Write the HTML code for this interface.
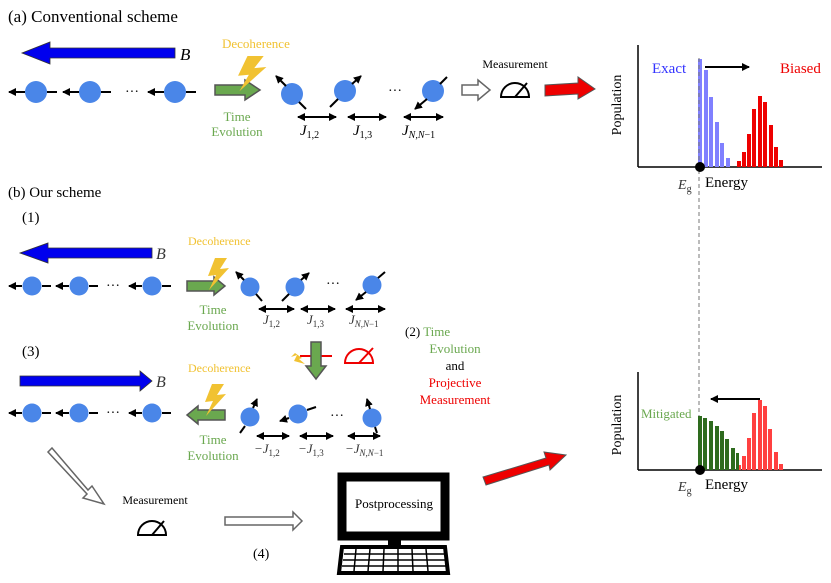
<!DOCTYPE html>
<html><head><meta charset="utf-8"><style>
body{margin:0;background:#fff}
svg{display:block;font-family:"Liberation Serif",serif}
</style></head><body>
<svg width="831" height="583" viewBox="0 0 831 583" xmlns="http://www.w3.org/2000/svg">
<defs>
<marker id="ah" markerWidth="8" markerHeight="8" refX="7" refY="4" orient="auto" markerUnits="userSpaceOnUse"><path d="M0,0 L8,4 L0,8 z" fill="#000"/></marker>
<marker id="ah2" markerWidth="8" markerHeight="8" refX="1" refY="4" orient="auto" markerUnits="userSpaceOnUse"><path d="M8,0 L0,4 L8,8 z" fill="#000"/></marker>
<g id="bolt"><path d="M10,0 L22,0 L15,11 L24,10 L4,32 L11,17 L3,18 z" fill="#f1c232"/></g>
<g id="meter"><path d="M0,16 A14,14 0 0 1 28,16 z" fill="none" stroke="#000" stroke-width="2"/><line x1="14" y1="16" x2="26" y2="2" stroke="#000" stroke-width="2"/></g>
</defs>

<!-- (a) -->
<text x="8" y="22" font-size="17">(a) Conventional scheme</text>
<path d="M175,48 L50,48 L50,42 L22,53 L50,64 L50,58 L175,58 z" fill="#0000ee" stroke="#333" stroke-width="0.8"/>
<text x="180" y="60" font-size="17" font-style="italic">B</text>
<g fill="#4a86e8">
<circle cx="36" cy="92" r="11"/><circle cx="90" cy="92" r="11"/><circle cx="175" cy="92" r="11"/>
</g>
<g stroke="#000" stroke-width="2">
<line x1="25" y1="92" x2="9" y2="92" marker-end="url(#ah)"/><line x1="47" y1="92" x2="57" y2="92"/>
<line x1="79" y1="92" x2="63" y2="92" marker-end="url(#ah)"/><line x1="101" y1="92" x2="111" y2="92"/>
<line x1="164" y1="92" x2="148" y2="92" marker-end="url(#ah)"/><line x1="186" y1="92" x2="196" y2="92"/>
</g>
<text x="125" y="96" font-size="14">···</text>
<path d="M215,85 L245,85 L245,80 L260,90 L245,100 L245,95 L215,95 z" fill="#6aa84f" stroke="#555" stroke-width="1.5"/>
<use href="#bolt" transform="translate(234,56) scale(1.35,1.1)"/>
<text x="222" y="48" font-size="13" fill="#f1c232">Decoherence</text>
<text x="237" y="121" font-size="13" fill="#6aa84f" text-anchor="middle">Time</text>
<text x="237" y="136" font-size="13" fill="#6aa84f" text-anchor="middle">Evolution</text>
<g fill="#4a86e8"><circle cx="292" cy="94" r="11"/><circle cx="345" cy="91" r="11"/><circle cx="433" cy="91" r="11"/></g>
<g stroke="#000" stroke-width="2">
<line x1="286" y1="86" x2="276" y2="76" marker-end="url(#ah)"/><line x1="299" y1="102" x2="306" y2="109"/>
<line x1="352" y1="84" x2="361" y2="76" marker-end="url(#ah)"/><line x1="338" y1="99" x2="330" y2="107"/>
<line x1="427" y1="99" x2="415" y2="109" marker-end="url(#ah)"/><line x1="440" y1="84" x2="447" y2="77"/>
<line x1="298" y1="117" x2="336" y2="117" marker-end="url(#ah)" marker-start="url(#ah2)"/>
<line x1="348" y1="117" x2="386" y2="117" marker-end="url(#ah)" marker-start="url(#ah2)"/>
<line x1="404" y1="117" x2="443" y2="117" marker-end="url(#ah)" marker-start="url(#ah2)"/>
</g>
<text x="388" y="95" font-size="14">···</text>
<g font-size="15" font-style="italic">
<text x="300" y="135">J<tspan font-size="10" font-style="normal" dy="3">1,2</tspan></text>
<text x="353" y="135">J<tspan font-size="10" font-style="normal" dy="3">1,3</tspan></text>
<text x="402" y="135">J<tspan font-size="10" dy="3">N,N</tspan><tspan font-size="10" font-style="normal">−1</tspan></text>
</g>
<path d="M462,85 L478,85 L478,80 L490,90 L478,100 L478,95 L462,95 z" fill="#fff" stroke="#666" stroke-width="1.5"/>
<text x="515" y="68" font-size="12" text-anchor="middle">Measurement</text>
<use href="#meter" transform="translate(501,81)"/>
<path d="M545,85 L578,83 L578,77 L595,89 L578,99 L578,94 L545,96 z" fill="#ee0000" stroke="#555" stroke-width="1"/>

<!-- chart a -->
<text transform="translate(621,105) rotate(-90)" font-size="14" text-anchor="middle">Population</text>
<line x1="638" y1="45" x2="638" y2="167" stroke="#000" stroke-width="1.5"/>
<line x1="638" y1="167" x2="822" y2="167" stroke="#000" stroke-width="1.5"/>
<g fill="#8080ff">
<rect x="698" y="59" width="4" height="108"/><rect x="704" y="70" width="4" height="97"/><rect x="709" y="97" width="4" height="70"/>
<rect x="715" y="122" width="4" height="45"/><rect x="720" y="143" width="4" height="24"/><rect x="726" y="158" width="4" height="9"/>
</g>
<g fill="#ee0000">
<rect x="737" y="161" width="4" height="6"/><rect x="742" y="152" width="4" height="15"/><rect x="747" y="134" width="4" height="33"/>
<rect x="752" y="109" width="4" height="58"/><rect x="758" y="96" width="4" height="71"/><rect x="763" y="102" width="4" height="65"/>
<rect x="769" y="125" width="4" height="42"/><rect x="774" y="147" width="4" height="20"/><rect x="779" y="160" width="4" height="7"/>
</g>
<line x1="699" y1="58" x2="699" y2="470" stroke="#777" stroke-width="1" stroke-dasharray="4,3"/>
<circle cx="700" cy="167" r="5" fill="#000"/>
<line x1="705" y1="67" x2="749" y2="67" stroke="#000" stroke-width="2" marker-end="url(#ah)"/>
<text x="652" y="73" font-size="15" fill="#3333ff">Exact</text>
<text x="780" y="73" font-size="15" fill="#ee0000">Biased</text>
<text x="678" y="189" font-size="14" font-style="italic" fill="#333">E<tspan font-size="10" font-style="normal" dy="3">g</tspan></text>
<text x="705" y="187" font-size="15">Energy</text>

<!-- (b) -->
<text x="8" y="197" font-size="15">(b) Our scheme</text>
<text x="22" y="222" font-size="15">(1)</text>
<path d="M152,248 L48,248 L48,243 L20,253 L48,263 L48,258 L152,258 z" fill="#0000ee" stroke="#333" stroke-width="0.8"/>
<text x="156" y="259" font-size="16" font-style="italic" fill="#333">B</text>
<text x="22" y="356" font-size="15">(3)</text>
<path d="M20,376 L140,376 L140,371 L152,381 L140,391 L140,386 L20,386 z" fill="#0000ee" stroke="#333" stroke-width="0.8"/>
<text x="156" y="387" font-size="16" font-style="italic" fill="#333">B</text>
<g fill="#4a86e8">
<circle cx="32" cy="286" r="9.5"/><circle cx="79" cy="286" r="9.5"/><circle cx="152" cy="286" r="9.5"/>
<circle cx="32" cy="413" r="9.5"/><circle cx="79" cy="413" r="9.5"/><circle cx="152" cy="413" r="9.5"/>
</g>
<g stroke="#000" stroke-width="2">
<line x1="22" y1="286" x2="9" y2="286" marker-end="url(#ah)"/><line x1="42" y1="286" x2="51" y2="286"/>
<line x1="69" y1="286" x2="56" y2="286" marker-end="url(#ah)"/><line x1="89" y1="286" x2="98" y2="286"/>
<line x1="142" y1="286" x2="129" y2="286" marker-end="url(#ah)"/><line x1="162" y1="286" x2="171" y2="286"/>
<line x1="22" y1="413" x2="9" y2="413" marker-end="url(#ah)"/><line x1="42" y1="413" x2="51" y2="413"/>
<line x1="69" y1="413" x2="56" y2="413" marker-end="url(#ah)"/><line x1="89" y1="413" x2="98" y2="413"/>
<line x1="142" y1="413" x2="129" y2="413" marker-end="url(#ah)"/><line x1="162" y1="413" x2="171" y2="413"/>
</g>
<text x="106" y="290" font-size="14">···</text>
<text x="106" y="417" font-size="14">···</text>

<path d="M187,281 L214,281 L214,277 L225,286 L214,295 L214,291 L187,291 z" fill="#6aa84f" stroke="#555" stroke-width="1.5"/>
<use href="#bolt" transform="translate(205,258)"/>
<text x="188" y="245" font-size="12" fill="#f1c232">Decoherence</text>
<text x="213" y="314" font-size="13" fill="#6aa84f" text-anchor="middle">Time</text>
<text x="213" y="330" font-size="13" fill="#6aa84f" text-anchor="middle">Evolution</text>

<g fill="#4a86e8"><circle cx="250" cy="287" r="9.5"/><circle cx="295" cy="287" r="9.5"/><circle cx="372" cy="285" r="9.5"/></g>
<g stroke="#000" stroke-width="2">
<line x1="244" y1="280" x2="236" y2="272" marker-end="url(#ah)"/><line x1="256" y1="294" x2="262" y2="301"/>
<line x1="301" y1="280" x2="309" y2="273" marker-end="url(#ah)"/><line x1="289" y1="294" x2="282" y2="301"/>
<line x1="366" y1="292" x2="356" y2="300" marker-end="url(#ah)"/><line x1="378" y1="278" x2="385" y2="272"/>
<line x1="259" y1="309" x2="294" y2="309" marker-end="url(#ah)" marker-start="url(#ah2)"/>
<line x1="301" y1="309" x2="335" y2="309" marker-end="url(#ah)" marker-start="url(#ah2)"/>
<line x1="346" y1="309" x2="385" y2="309" marker-end="url(#ah)" marker-start="url(#ah2)"/>
</g>
<text x="326" y="288" font-size="14">···</text>
<g font-size="13" font-style="italic" fill="#333">
<text x="263" y="324">J<tspan font-size="9" font-style="normal" dy="3">1,2</tspan></text>
<text x="307" y="324">J<tspan font-size="9" font-style="normal" dy="3">1,3</tspan></text>
<text x="349" y="324">J<tspan font-size="9" dy="3">N,N</tspan><tspan font-size="9" font-style="normal">−1</tspan></text>
</g>

<!-- (2) -->
<line x1="300" y1="356" x2="332" y2="356" stroke="#ee0000" stroke-width="2"/>
<path d="M311,342 L321,342 L321,366 L326,366 L316,379 L306,366 L311,366 z" fill="#6aa84f" stroke="#555" stroke-width="1.5"/>
<path d="M291,357 L297,355 L294,361 L305,364 L299,359 L302,358 L295,353 z" fill="#f1c232"/>
<g transform="translate(345,345)"><path d="M0,18 A14,14 0 0 1 28,18 z" fill="none" stroke="#ee0000" stroke-width="2"/><line x1="14" y1="18" x2="28" y2="3" stroke="#ee0000" stroke-width="2"/></g>
<text x="405" y="336" font-size="13">(2) <tspan fill="#6aa84f">Time</tspan></text>
<text x="455" y="353" font-size="13" fill="#6aa84f" text-anchor="middle">Evolution</text>
<text x="455" y="370" font-size="13" text-anchor="middle">and</text>
<text x="455" y="387" font-size="13" fill="#ee0000" text-anchor="middle">Projective</text>
<text x="455" y="404" font-size="13" fill="#ee0000" text-anchor="middle">Measurement</text>

<!-- (3) row right -->
<path d="M225,410 L198,410 L198,406 L187,415 L198,424 L198,420 L225,420 z" fill="#6aa84f" stroke="#555" stroke-width="1.5"/>
<use href="#bolt" transform="translate(202,384)"/>
<text x="188" y="372" font-size="12" fill="#f1c232">Decoherence</text>
<text x="213" y="444" font-size="13" fill="#6aa84f" text-anchor="middle">Time</text>
<text x="213" y="460" font-size="13" fill="#6aa84f" text-anchor="middle">Evolution</text>
<g fill="#4a86e8"><circle cx="250" cy="417" r="9.5"/><circle cx="298" cy="414" r="9.5"/><circle cx="372" cy="418" r="9.5"/></g>
<g stroke="#000" stroke-width="2">
<line x1="253" y1="408" x2="257" y2="399" marker-end="url(#ah)"/><line x1="245" y1="426" x2="240" y2="433"/>
<line x1="289" y1="418" x2="280" y2="421" marker-end="url(#ah)"/><line x1="307" y1="410" x2="316" y2="407"/>
<line x1="370" y1="409" x2="367" y2="399" marker-end="url(#ah)"/><line x1="375" y1="427" x2="377" y2="433"/>
<line x1="257" y1="436" x2="289" y2="436" marker-end="url(#ah)" marker-start="url(#ah2)"/>
<line x1="300" y1="436" x2="333" y2="436" marker-end="url(#ah)" marker-start="url(#ah2)"/>
<line x1="348" y1="436" x2="380" y2="436" marker-end="url(#ah)" marker-start="url(#ah2)"/>
</g>
<text x="330" y="420" font-size="14">···</text>
<g font-size="13" font-style="italic" fill="#333">
<text x="254" y="453">−J<tspan font-size="9" font-style="normal" dy="3">1,2</tspan></text>
<text x="298" y="453">−J<tspan font-size="9" font-style="normal" dy="3">1,3</tspan></text>
<text x="345" y="453">−J<tspan font-size="9" dy="3">N,N</tspan><tspan font-size="9" font-style="normal">−1</tspan></text>
</g>

<!-- bottom -->
<path d="M52,448 L88,490 L92,486 L104,504 L83,498 L87,494 L48,452 z" fill="#fff" stroke="#666" stroke-width="1.5"/>
<text x="155" y="504" font-size="12" text-anchor="middle">Measurement</text>
<use href="#meter" transform="translate(138,519)"/>
<path d="M225,517 L293,517 L293,512 L302,521 L293,530 L293,525 L225,525 z" fill="#fff" stroke="#666" stroke-width="1.5"/>
<text x="253" y="558" font-size="14">(4)</text>
<rect x="342" y="477" width="103" height="59" fill="none" stroke="#000" stroke-width="9"/>
<text x="394" y="508" font-size="13" text-anchor="middle">Postprocessing</text>
<rect x="388" y="540" width="13" height="8" fill="#000"/>
<path d="M342,547 L445,547 L448,573 L339,573 z" fill="#fff" stroke="#000" stroke-width="4"/>
<g stroke="#000" stroke-width="1.5">
<line x1="344" y1="554" x2="444" y2="554"/><line x1="343" y1="560" x2="445" y2="560"/><line x1="342" y1="566" x2="446" y2="566"/>
<line x1="356" y1="549" x2="354" y2="571"/><line x1="370" y1="549" x2="368" y2="571"/><line x1="384" y1="549" x2="383" y2="571"/>
<line x1="398" y1="549" x2="398" y2="571"/><line x1="412" y1="549" x2="413" y2="571"/><line x1="426" y1="549" x2="428" y2="571"/>
</g>
<path d="M483,477 L546,458 L544,452 L566,455 L550,470 L549,465 L486,485 z" fill="#ee0000" stroke="#555" stroke-width="1"/>

<!-- chart b -->
<text transform="translate(621,425) rotate(-90)" font-size="14" text-anchor="middle">Population</text>
<line x1="638" y1="372" x2="638" y2="470" stroke="#000" stroke-width="1.5"/>
<line x1="638" y1="470" x2="822" y2="470" stroke="#000" stroke-width="1.5"/>
<g fill="#ff4040">
<rect x="737" y="465" width="4" height="5"/><rect x="742" y="456" width="4" height="14"/><rect x="747" y="438" width="4" height="32"/>
<rect x="752" y="413" width="4" height="57"/><rect x="758" y="400" width="4" height="70"/><rect x="763" y="406" width="4" height="64"/>
<rect x="768" y="429" width="4" height="41"/><rect x="774" y="452" width="4" height="18"/><rect x="779" y="464" width="4" height="6"/>
</g>
<g fill="#2e6b1e">
<rect x="698" y="416" width="4" height="54"/><rect x="703" y="418" width="4" height="52"/><rect x="709" y="421" width="4" height="49"/>
<rect x="715" y="426" width="4" height="44"/><rect x="720" y="431" width="4" height="39"/><rect x="725" y="439" width="4" height="31"/>
<rect x="731" y="448" width="4" height="22"/><rect x="736" y="453" width="3" height="17"/>
</g>
<circle cx="700" cy="470" r="5" fill="#000"/>
<line x1="760" y1="399" x2="711" y2="399" stroke="#000" stroke-width="2" marker-end="url(#ah)"/>
<text x="641" y="418" font-size="13" fill="#6aa84f">Mitigated</text>
<text x="678" y="491" font-size="14" font-style="italic" fill="#333">E<tspan font-size="10" font-style="normal" dy="3">g</tspan></text>
<text x="705" y="489" font-size="15">Energy</text>
</svg>
</body></html>
